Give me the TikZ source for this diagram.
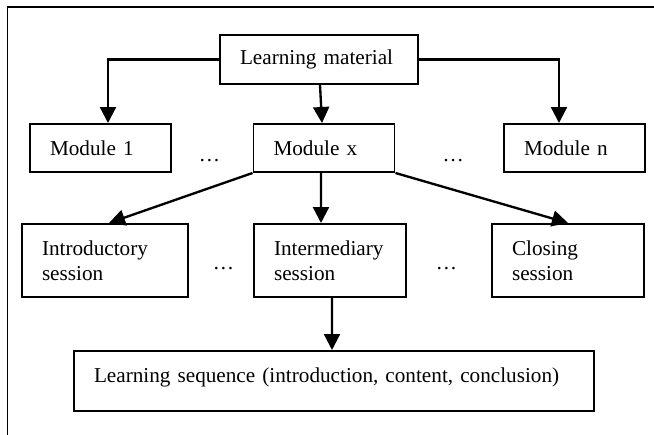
\documentclass[tikz,border=0pt]{standalone}
\usepackage{fontspec}
\setmainfont{Liberation Serif}
\usepackage{tikz}
\usetikzlibrary{arrows.meta}

\begin{document}
\begin{tikzpicture}[
    box/.style={draw, line width=1.7pt, inner xsep=0.6cm, align=left,
        font=\fontsize{18.1pt}{21.3pt}\selectfont},
    modbox/.style={box, text width=3.03cm, minimum height=1.44cm},
    sessbox/.style={box, minimum height=2.19cm},
    link/.style={line width=2pt, -{Triangle[length=0.48cm, width=0.48cm]}},
    etc/.style={inner sep=0pt, font=\fontsize{18.1pt}{21.3pt}\selectfont}
    ]
    \useasboundingbox (0,0) rectangle (19.62,-13.05);

    \draw[line width=1.7pt] (19.62,-0.21) -- (0.225,-0.21) -- (0.225,-13.05);

    \node[box, text width=4.74cm, minimum height=1.47cm] (mat) at (9.57,-1.785) {Learning material};

    \node[modbox] (mod1) at (3.015,-4.44) {Module 1};
    \node[modbox] (modx) at (9.72,-4.44) {Module x};
    \node[modbox] (modn) at (17.235,-4.44) {Module n};
    \node[etc] (etc1) at (6.285,-4.83) {\dots};
    \node[etc] (etc2) at (13.6,-4.83) {\dots};

    \node[sessbox, text width=3.78cm] (intro) at (3.15,-7.815) {Introductory\\session};
    \node[sessbox, text width=3.36cm] (inter) at (9.9,-7.815) {Intermediary\\session};
    \node[sessbox, text width=3.36cm] (closing) at (17.04,-7.815) {Closing\\session};
    \node[etc] (etc3) at (6.705,-8.07) {\dots};
    \node[etc] (etc4) at (13.395,-8.07) {\dots};

    \node[box, text width=14.4cm, inner ysep=0.15cm, text height=0.78cm, text depth=0.72cm]
        (seq) at (10.02,-11.43) {Learning sequence (introduction, content, conclusion)};

    \draw[link] (mat.west) -| ([xshift=0.225cm]mod1.north);
    \draw[link] (mat.east) -| ([xshift=-0.465cm]modn.north);
    \draw[link] ([xshift=0.03cm]mat.south) -- ([xshift=-0.06cm]modx.north);

    \draw[link] (modx.south west) -- ([xshift=0.12cm]intro.north);
    \draw[link] ([xshift=-0.09cm]modx.south) -- ([xshift=-0.27cm]inter.north);
    \draw[link] (modx.south east) -- (closing.north);

    \draw[link] ([xshift=0.06cm]inter.south) -- ([xshift=-0.06cm]seq.north);
\end{tikzpicture}
\end{document}
